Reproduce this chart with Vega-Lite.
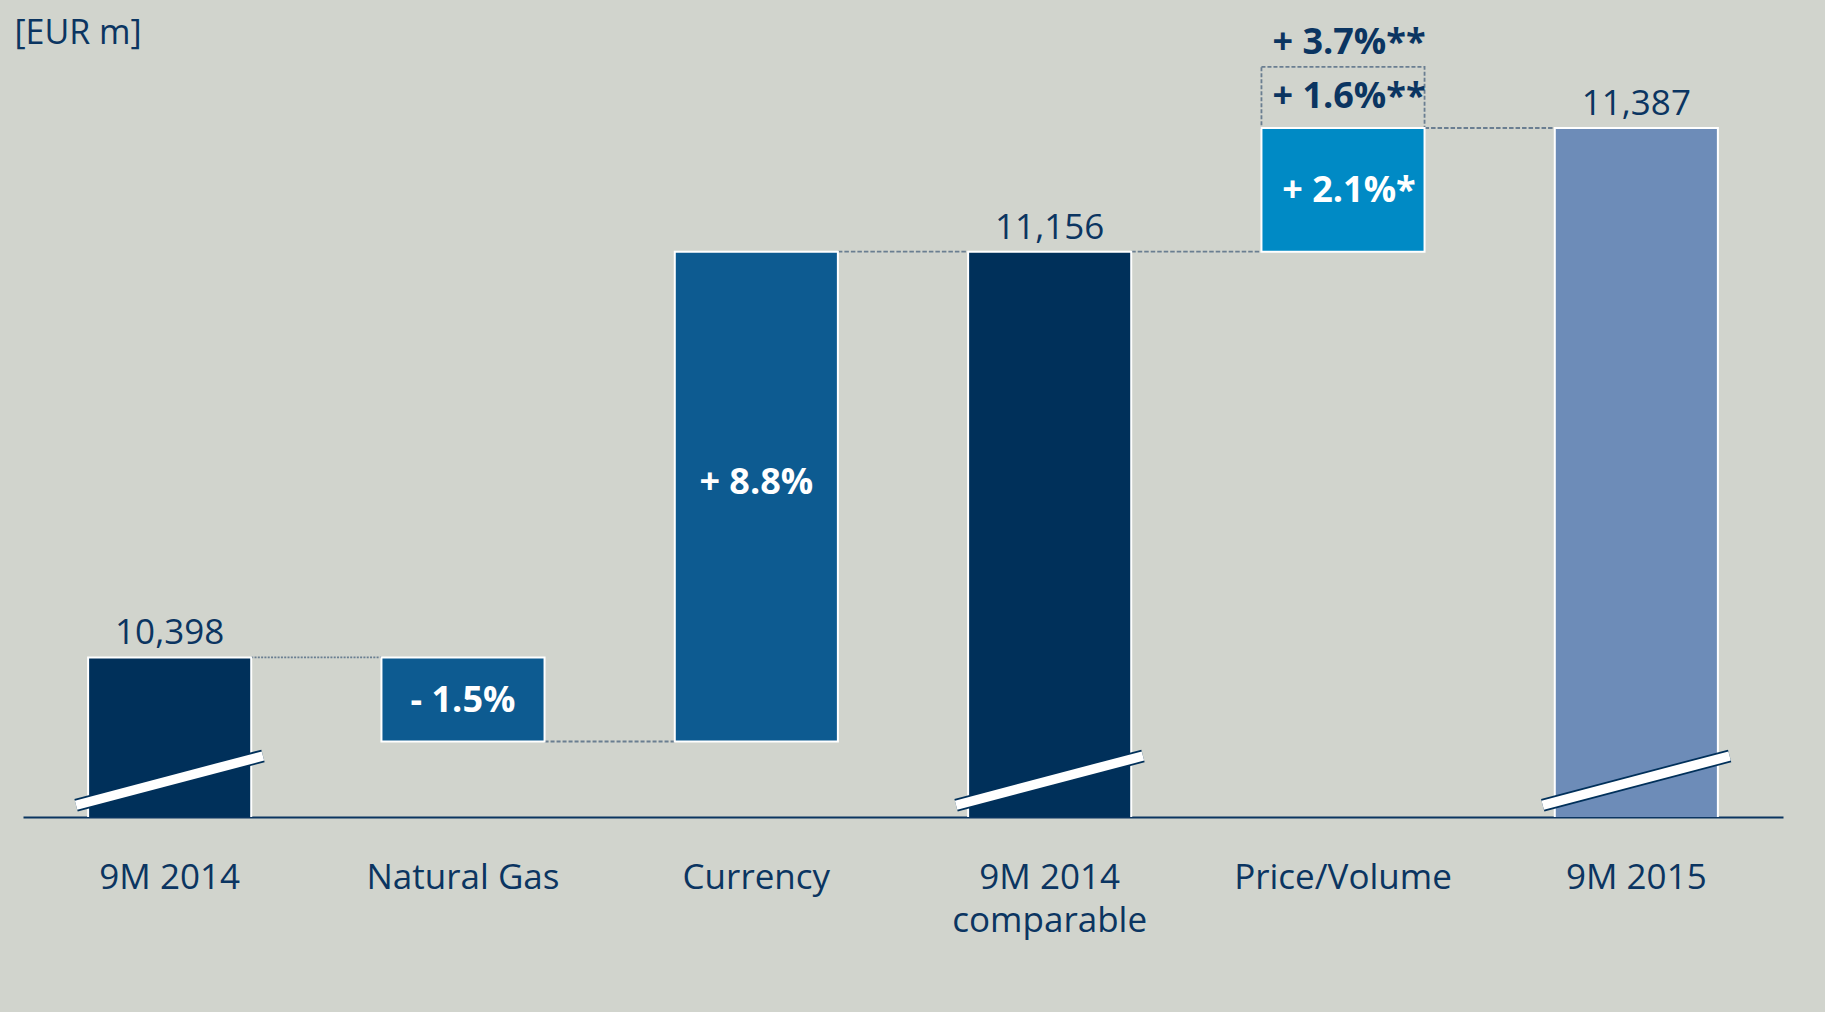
{
  "$schema": "https://vega.github.io/schema/vega-lite/v6.json",
  "width": 1825,
  "height": 757,
  "autosize": {"type": "none"},
  "padding": {"left": 0, "top": 60, "right": 0, "bottom": 195},
  "background": "#D1D4CD",
  "config": {
    "view": {"stroke": null},
    "font": "Open Sans",
    "axisY": {
      "domain": false, "ticks": false, "labels": false, "grid": false,
      "titleAngle": 0, "titleAlign": "left", "titleBaseline": "alphabetic",
      "titleX": 14, "titleY": -17, "titleFont": "Open Sans", "titleFontSize": 34,
      "titleFontWeight": "normal", "titleColor": "#0B3561"
    }
  },
  "resolve": {"scale": {"xOffset": "independent"}},
  "datasets": {
    "bars": [
      {"cat": "9M 2014", "from": 0, "to": 10398, "type": "total"},
      {"cat": "Natural Gas", "from": 10398, "to": 10241, "type": "delta"},
      {"cat": "Currency", "from": 10241, "to": 11156, "type": "delta"},
      {"cat": "9M 2014 comparable", "from": 0, "to": 11156, "type": "total"},
      {"cat": "Price/Volume", "from": 11156, "to": 11387, "type": "delta"},
      {"cat": "9M 2015", "from": 0, "to": 11387, "type": "total"}
    ],
    "links": [
      {"seg": "a", "cat": "9M 2014", "side": 1, "v": 10398},
      {"seg": "a", "cat": "Natural Gas", "side": 0, "v": 10398},
      {"seg": "b", "cat": "Natural Gas", "side": 1, "v": 10241},
      {"seg": "b", "cat": "Currency", "side": 0, "v": 10241},
      {"seg": "c", "cat": "Currency", "side": 1, "v": 11156},
      {"seg": "c", "cat": "9M 2014 comparable", "side": 0, "v": 11156},
      {"seg": "d", "cat": "9M 2014 comparable", "side": 1, "v": 11156},
      {"seg": "d", "cat": "Price/Volume", "side": 0, "v": 11156},
      {"seg": "e", "cat": "Price/Volume", "side": 1, "v": 11387},
      {"seg": "e", "cat": "9M 2015", "side": 0, "v": 11387}
    ],
    "breaks": [
      {"cat": "9M 2014", "side": -0.074, "v": 10122},
      {"cat": "9M 2014", "side": 1.072, "v": 10214},
      {"cat": "9M 2014 comparable", "side": -0.074, "v": 10122},
      {"cat": "9M 2014 comparable", "side": 1.072, "v": 10214},
      {"cat": "9M 2015", "side": -0.074, "v": 10122},
      {"cat": "9M 2015", "side": 1.072, "v": 10214}
    ],
    "box": [{"cat": "Price/Volume", "lo": 11387, "hi": 11501}],
    "notes": [
      {"cat": "Natural Gas", "label": "- 1.5%", "v": 10296, "tone": "in"},
      {"cat": "Currency", "label": "+ 8.8%", "v": 10703, "tone": "in"},
      {"cat": "Price/Volume", "label": "+ 2.1%*", "v": 11249, "tone": "in"},
      {"cat": "Price/Volume", "label": "+ 1.6%**", "v": 11424, "tone": "out"},
      {"cat": "Price/Volume", "label": "+ 3.7%**", "v": 11526, "tone": "out"}
    ]
  },
  "encoding": {
    "x": {
      "field": "cat", "type": "nominal",
      "scale": {
        "domain": ["9M 2014", "Natural Gas", "Currency", "9M 2014 comparable", "Price/Volume", "9M 2015"],
        "range": [23, 1783], "paddingInner": 0.444, "paddingOuter": 0.222
      },
      "axis": {
        "title": null, "domain": true, "domainColor": "#0B3561", "domainWidth": 2,
        "ticks": false, "tickSize": 0, "grid": false, "labelAngle": 0,
        "labelFont": "Open Sans", "labelFontSize": 35, "labelColor": "#0B3561",
        "labelBaseline": "alphabetic", "labelPadding": 71, "labelLineHeight": 43,
        "labelLimit": 0, "labelOverlap": false, "labelFlush": false,
        "labelExpr": "datum.value == '9M 2014 comparable' ? ['9M 2014', 'comparable'] : datum.label"
      }
    }
  },
  "layer": [
    {
      "data": {"name": "links"},
      "mark": {"type": "line", "strokeWidth": 1.8, "color": "#6A7E91"},
      "encoding": {
        "xOffset": {"field": "side", "type": "quantitative", "scale": {"domain": [0, 1], "range": [0, 163.1]}},
        "y": {"field": "v", "type": "quantitative", "title": "[EUR m]", "scale": {"domain": [10100, 11514], "zero": false, "nice": false}},
        "detail": {"field": "seg"},
        "strokeDash": {"field": "seg", "type": "nominal", "scale": {"domain": ["a", "b", "c", "d", "e"], "range": [[2, 1.3], [4, 2], [4.5, 2], [4.5, 2], [4.5, 2]]}, "legend": null}
      }
    },
    {
      "data": {"name": "box"},
      "mark": {"type": "bar", "fillOpacity": 0, "stroke": "#6A7E91", "strokeWidth": 1.8, "strokeDash": [4, 2]},
      "encoding": {
        "y": {"field": "hi", "type": "quantitative", "title": "[EUR m]", "scale": {"domain": [10100, 11514], "zero": false, "nice": false}},
        "y2": {"field": "lo"}
      }
    },
    {
      "data": {"name": "bars"},
      "mark": {"type": "bar", "clip": true, "stroke": "white", "strokeWidth": 2},
      "encoding": {
        "y": {"field": "to", "type": "quantitative", "title": "[EUR m]", "scale": {"domain": [10100, 11514], "zero": false, "nice": false}},
        "y2": {"field": "from"},
        "color": {
          "field": "cat", "type": "nominal", "legend": null,
          "scale": {
            "domain": ["9M 2014", "Natural Gas", "Currency", "9M 2014 comparable", "Price/Volume", "9M 2015"],
            "range": ["#00305A", "#0D5B91", "#0D5B91", "#00305A", "#008AC5", "#6D8CB8"]
          }
        }
      }
    },
    {
      "data": {"name": "breaks"},
      "mark": {"type": "line", "strokeWidth": 13, "strokeCap": "butt", "color": "#00305A"},
      "encoding": {
        "xOffset": {"field": "side", "type": "quantitative", "scale": {"domain": [0, 1], "range": [0, 163.1]}},
        "y": {"field": "v", "type": "quantitative", "title": "[EUR m]", "scale": {"domain": [10100, 11514], "zero": false, "nice": false}},
        "detail": {"field": "cat"}
      }
    },
    {
      "data": {"name": "breaks"},
      "mark": {"type": "line", "strokeWidth": 9.5, "strokeCap": "butt", "color": "#FFFFFF"},
      "encoding": {
        "xOffset": {"field": "side", "type": "quantitative", "scale": {"domain": [0, 1], "range": [0, 163.1]}},
        "y": {"field": "v", "type": "quantitative", "title": "[EUR m]", "scale": {"domain": [10100, 11514], "zero": false, "nice": false}},
        "detail": {"field": "cat"}
      }
    },
    {
      "data": {"name": "bars"},
      "transform": [{"filter": "datum.type == 'total'"}],
      "mark": {"type": "text", "font": "Open Sans", "fontSize": 35, "color": "#0B3561", "baseline": "alphabetic", "dy": -13},
      "encoding": {
        "y": {"field": "to", "type": "quantitative", "title": "[EUR m]", "scale": {"domain": [10100, 11514], "zero": false, "nice": false}},
        "text": {"field": "to", "type": "quantitative", "format": ",d"}
      }
    },
    {
      "data": {"name": "notes"},
      "transform": [{"filter": "datum.cat != 'Price/Volume'"}],
      "mark": {"type": "text", "font": "Open Sans", "fontSize": 36, "fontWeight": "bold", "baseline": "alphabetic", "color": "#FFFFFF"},
      "encoding": {
        "y": {"field": "v", "type": "quantitative", "title": "[EUR m]", "scale": {"domain": [10100, 11514], "zero": false, "nice": false}},
        "text": {"field": "label"}
      }
    },
    {
      "data": {"name": "notes"},
      "transform": [{"filter": "datum.cat == 'Price/Volume'"}],
      "mark": {"type": "text", "font": "Open Sans", "fontSize": 36, "fontWeight": "bold", "baseline": "alphabetic", "dx": 6},
      "encoding": {
        "y": {"field": "v", "type": "quantitative", "title": "[EUR m]", "scale": {"domain": [10100, 11514], "zero": false, "nice": false}},
        "text": {"field": "label"},
        "color": {"condition": {"test": "datum.tone == 'in'", "value": "#FFFFFF"}, "value": "#0B3561"}
      }
    }
  ]
}
